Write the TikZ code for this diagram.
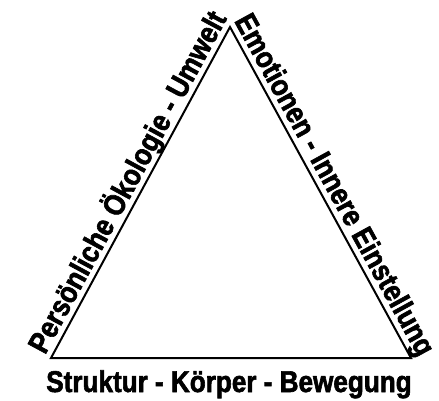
\documentclass[tikz,border=0pt]{standalone}
\usepackage{fontspec}
\setmainfont{Liberation Sans}
\newfontfamily\lblfont{Liberation Sans}[UprightFont={* Bold}, FakeStretch=0.87, FakeBold=2]
\usetikzlibrary{calc}
\tikzset{
  side/.style={line width=2pt, line join=miter},
  lbl/.style={font=\fontsize{30}{30}\lblfont, inner sep=0pt, anchor=base}
}
\begin{document}
\begin{tikzpicture}[x=1pt,y=-1pt]
\useasboundingbox (0,0) rectangle (439,401);
\coordinate (T) at (230,27);
\coordinate (BL) at (51,358);
\coordinate (BR) at (411,358);
\draw[side] (T) -- (BR) -- (BL) -- cycle;
\node[lbl, rotate=61.6] (left) at (136.2,186.8) {Persönliche Ökologie - Umwelt};
\node[lbl, rotate=-61.3] (right) at (326.2,189.4) {Emotionen - Innere Einstellung};
\node[lbl] (bottom) at (229,392) {Struktur - Körper - Bewegung};
\end{tikzpicture}
\end{document}
